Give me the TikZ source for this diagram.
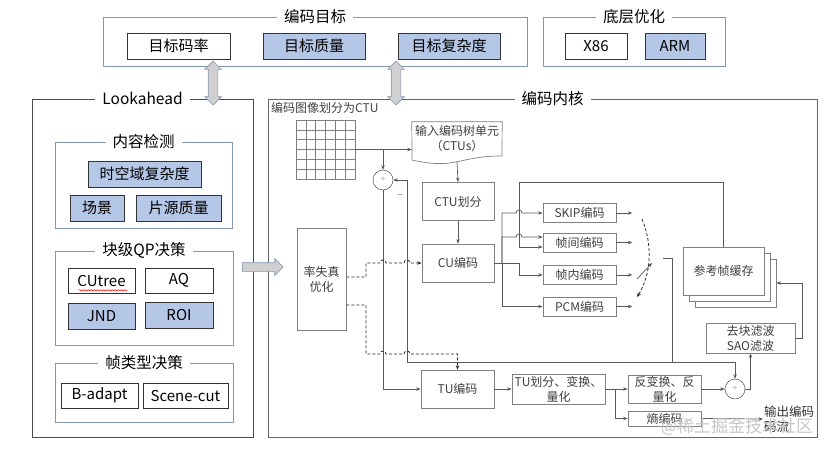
\documentclass[tikz,border=0pt]{standalone}
\usepackage{fontspec}
\setmainfont{Noto Sans CJK SC}
\usepackage{tikz}
\usetikzlibrary{arrows.meta, shapes.arrows, decorations.pathmorphing, positioning}

\definecolor{bleu}{RGB}{180,199,231}
\definecolor{cadre}{RGB}{132,151,176}
\definecolor{gris}{RGB}{128,128,128}
\definecolor{texte}{RGB}{64,64,64}
\definecolor{fleche}{RGB}{208,208,208}

\begin{document}
\begin{tikzpicture}[>={Stealth[length=4.5pt,width=3.5pt]}, x=1pt, y=-1pt,
    haut/.style={draw=black!80, line width=0.7pt, inner sep=0pt, minimum height=26pt, font=\fontsize{15}{18}\selectfont},
    bleue/.style={haut, fill=bleu},
    groupe/.style={draw=cadre, line width=0.8pt, inner sep=0pt},
    titre/.style={fill=white, inner xsep=7pt, inner ysep=0pt, font=\fontsize{15.5}{18}\selectfont},
    noyau/.style={draw=gris, line width=0.7pt, fill=white, text=texte, inner sep=0pt, align=center, font=\fontsize{12}{15}\selectfont},
    fil/.style={draw=black!65, line width=0.7pt},
    pointille/.style={draw=black!85, line width=0.8pt, dash pattern=on 3pt off 2pt},
    somme/.style={draw=black!80, circle, minimum size=20pt, inner sep=0pt, text=gris!70, font=\fontsize{9}{9}\selectfont},
    bloc/.style={draw=cadre, fill=fleche, line width=0.7pt}]
  \useasboundingbox (0,0) rectangle (832,450);

  % Objectifs et optimisation bas niveau
  \node[groupe, minimum width=424pt, minimum height=49pt] (cible) at (315,41.5) {};
  \node[titre] (tcible) at (cible.north) {编码目标};
  \node[haut, minimum width=103pt] (debit) at (178.5,46) {目标码率};
  \node[bleue, minimum width=102pt] (qualite) at (314,46) {目标质量};
  \node[bleue, minimum width=102pt] (complex) at (449,46) {目标复杂度};

  \node[groupe, minimum width=182pt, minimum height=49pt] (bas) at (634,41.5) {};
  \node[titre] (tbas) at (bas.north) {底层优化};
  \node[haut, minimum width=62pt] (x86) at (596,46) {X86};
  \node[bleue, minimum width=60pt] (arm) at (675,46) {ARM};

  % Lookahead
  \node[draw=black!70, line width=0.8pt, minimum width=221pt, minimum height=338pt] (look) at (142.5,268) {};
  \node[titre] (tlook) at (look.north) {Lookahead};
  \node[groupe, minimum width=177pt, minimum height=86pt] (detect) at (143.5,185) {};
  \node[titre] (tdetect) at (detect.north) {内容检测};
  \node[bleue, minimum width=113pt] (spatio) at (144.5,174) {时空域复杂度};
  \node[bleue, minimum width=54pt] (scene) at (97,208) {场景};
  \node[bleue, minimum width=85pt] (source) at (178.5,208) {片源质量};

  \node[groupe, minimum width=178pt, minimum height=94pt] (qp) at (144,298) {};
  \node[titre] (tqp) at (qp.north) {块级QP决策};
  \node[haut, minimum width=67pt, minimum height=25pt] (cutree) at (101.5,280.5) {CUtree};
  \draw[red, line width=0.5pt, decorate, decoration={snake, amplitude=0.7pt, segment length=3pt}]
    ([xshift=11pt, yshift=3pt]cutree.south west) -- ([xshift=-8pt, yshift=3pt]cutree.south east);
  \node[haut, minimum width=68pt, minimum height=25pt] (aq) at (179,280.5) {AQ};
  \node[bleue, minimum width=67pt] (jnd) at (101.5,316) {JND};
  \node[bleue, minimum width=68pt] (roi) at (179,315) {ROI};

  \node[groupe, minimum width=178pt, minimum height=59pt] (trame) at (144,392.5) {};
  \node[titre] (ttrame) at (trame.north) {帧类型决策};
  \node[haut, minimum width=77pt, minimum height=25pt] (badapt) at (99.5,395.5) {B-adapt};
  \node[haut, minimum width=85pt, minimum height=25pt] (scut) at (185.5,395.5) {Scene-cut};

  % Noyau d'encodage
  \node[draw=black!60, line width=0.8pt, minimum width=549pt, minimum height=338pt] (coeur) at (542.5,268) {};
  \node[titre] (tcoeur) at ([xshift=10pt]coeur.north) {编码内核};
  \node[anchor=west, text=texte, inner sep=0pt, font=\fontsize{12}{15}\selectfont] (lgrille) at (271,108) {编码图像划分为CTU};

  \node[draw=gris, minimum size=59pt, inner sep=0pt] (grille) at (325.5,149.5) {};
  \foreach \i in {1,...,5} {
    \draw[gris] (296+\i*9.833,120) -- (296+\i*9.833,179);
    \draw[gris] (296,120+\i*9.833) -- (355,120+\i*9.833);
  }

  \node[text=texte, align=center, inner sep=0pt, minimum width=90pt, minimum height=32pt, font=\fontsize{12}{15}\selectfont] (ctus) at (457,138) {输入编码树单元\\（CTUs）};
  \draw[draw=gris, line width=0.7pt] (ctus.north west) -- (ctus.north east) -- (502,156)
    .. controls (457,156) and (457,170) .. (412,160) -- cycle;
  \coordinate (ctusbas) at (457,162);

  \node[somme] (add1) at (383,180) {+};
  \node[text=texte, inner sep=0pt] (moins) at (400,195) {$-$};
  \node[noyau, minimum width=72pt, minimum height=38pt] (ctu) at (458,201.5) {CTU划分};
  \node[noyau, minimum width=72pt, minimum height=38pt] (cu) at (458,263) {CU编码};
  \node[noyau, minimum width=49pt, minimum height=102pt] (rdo) at (321.5,279) {率失真\\优化};

  \node[noyau, minimum width=73pt, minimum height=19pt] (skip) at (579.5,213) {SKIP编码};
  \node[noyau, minimum width=73pt, minimum height=19pt] (inter) at (579.5,242.5) {帧间编码};
  \node[noyau, minimum width=73pt, minimum height=19pt] (intra) at (579.5,275) {帧内编码};
  \node[noyau, minimum width=73pt, minimum height=19pt] (pcm) at (579.5,306.5) {PCM编码};

  \node[noyau, minimum width=81pt, minimum height=48pt] (ref3) at (735.5,283) {};
  \node[noyau, minimum width=81pt, minimum height=48pt] (ref2) at (729.5,277) {};
  \node[noyau, minimum width=81pt, minimum height=48pt] (ref) at (723.5,271) {参考帧缓存};
  \node[noyau, minimum width=89pt, minimum height=30pt] (filtre) at (750.5,338) {去块滤波\\SAO滤波};

  \node[noyau, minimum width=73pt, minimum height=38pt] (tu) at (457.5,389) {TU编码};
  \node[noyau, minimum width=93pt, minimum height=30pt] (tuq) at (558.5,389) {TU划分、变换、\\量化};
  \node[noyau, minimum width=73pt, minimum height=28pt] (itq) at (664.5,389) {反变换、反\\量化};
  \node[noyau, minimum width=73pt, minimum height=15pt] (ent) at (664.5,418.5) {熵编码};
  \node[somme] (add2) at (735,389) {+};
  \node[anchor=west, align=left, text=black!80, inner sep=1pt, font=\fontsize{12.5}{15}\selectfont] (sortie) at (763,419) {输出编码\\码流};

  % Liaisons
  \draw[fil,->] (grille.east) -- (grille.east -| ctus.west);
  \draw[fil,->] (grille.east -| add1) -- (add1.north);
  \draw[fil,->] (ctusbas) -- (ctu.north);
  \draw[fil,->] (ctu) -- (cu);

  \coordinate (bus) at (502,263);
  \draw[fil] (cu.east) -- (bus);
  \draw[fil,->] (bus) |- (516,213) .. controls (516,209) and (522,209) .. (522,213) -- (skip.west);
  \draw[fil,->] (bus) |- (516,237) .. controls (516,233) and (522,233) .. (522,237) -- (inter.west |- 0,237);
  \draw[fil,->] (bus) -| (519,275) -- (intra.west);
  \draw[fil,->] (bus) |- (pcm.west);
  \draw[fil,->] (ref.north) |- (519,182) -- (519,247) -- (inter.west |- 0,247);
  \foreach \m in {skip,inter,intra,pcm}
    \draw[fil,->] (\m.east) -- ++(16,0);

  % commutateur
  \coordinate (sw1) at (642,219);
  \coordinate (sw2) at (637,297);
  \coordinate (lev1) at (637,279);
  \coordinate (lev2) at (652,263);
  \coordinate (swout) at (663,258);
  \coordinate (retour) at (672,362);
  \draw[pointille, ->] (sw1) .. controls (653,245) and (651,275) .. (sw2);
  \draw[fil,->] (lev1) -- (lev2);
  \draw[fil] (swout) -| (retour);
  \draw[fil,->] (retour) -| (407,180) -- (add1.east);
  \draw[fil,->] (retour) -| (add2.north);
  \draw[fil,->] (add1.south) |- (tu.west);

  \draw[pointille,->] (rdo.east |- 0,277) -| (366,263) -- (380,263) .. controls (380,259) and (386,259) .. (386,263)
    -- (404,263) .. controls (404,259) and (410,259) .. (410,263) -- (cu.west);
  \draw[pointille,->] (rdo.east |- 0,305) -| (366,354) -- (380,354) .. controls (380,350) and (386,350) .. (386,354)
    -- (404,354) .. controls (404,350) and (410,350) .. (410,354) -| (tu.north);

  \draw[fil,->] (tu) -- (tuq);
  \coordinate (div) at (615,389);
  \draw[fil] (tuq.east) -- (div);
  \draw[fil,->] (div) -- (itq.west);
  \draw[fil,->] (div) |- (ent.west);
  \draw[fil,->] (itq) -- (add2);
  \draw[fil,->] (add2.east) -| (filtre.south);
  \draw[fil,->] (filtre.east) -| (802,283) -- (ref3.east);
  \draw[fil,->] (ent.east) -- (sortie.west);

  % Flèches épaisses
  \node[bloc, double arrow, rotate=90, inner sep=4.5pt, minimum height=44pt, double arrow head extend=3.5pt, double arrow head indent=0pt] (fl1) at (213,83) {};
  \node[bloc, double arrow, rotate=90, inner sep=4.5pt, minimum height=44pt, double arrow head extend=3.5pt, double arrow head indent=0pt] (fl2) at (396,83) {};
  \node[bloc, single arrow, inner sep=4pt, minimum height=41pt, single arrow head extend=4pt, single arrow head indent=0pt] (fl3) at (260.5,267) {};

  \node[text=gray!45, inner sep=0pt, font=\fontsize{17}{20}\selectfont] (marque) at (737,427) {@稀土掘金技术社区};
\end{tikzpicture}
\end{document}
